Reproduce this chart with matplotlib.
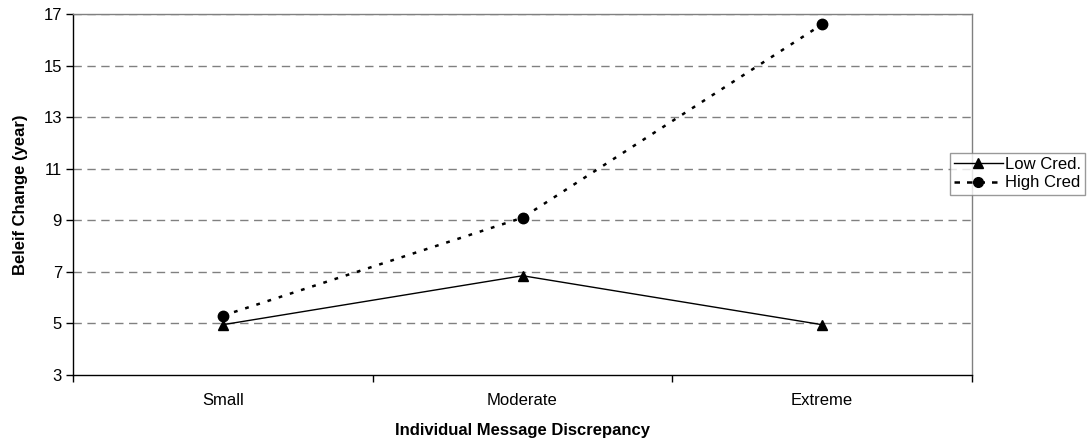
import matplotlib
matplotlib.use("Agg")
import matplotlib.pyplot as plt
from matplotlib.lines import Line2D

plt.rcParams['font.family'] = ['Liberation Sans', 'DejaVu Sans']

categories = ["Small", "Moderate", "Extreme"]
low_cred = [4.95, 6.85, 4.95]
high_cred = [5.3, 9.1, 16.6]
y_ticks = [3, 5, 7, 9, 11, 13, 15, 17]

fig = plt.figure(figsize=(10.89, 4.44), dpi=100)
ax = fig.add_axes([73 / 1089, 69 / 444, 899 / 1089, 361 / 444])

xpos = [i + 0.5 for i in range(len(categories))]

for y in y_ticks[1:]:
    ax.axhline(y, color='#808080', lw=1.0, ls=(0, (6, 4)), zorder=1)

dotted = (0, (1.5, 3.2))
ax.plot(xpos, low_cred, color='black', lw=1.0, marker='^', ms=7.5,
        label='Low Cred.', zorder=3)
ax.plot(xpos, high_cred, color='black', lw=1.8, ls=dotted,
        marker='o', ms=7.5, label='High Cred', zorder=3)

ax.set_xlim(0, 3)
ax.set_ylim(3, 17)
ax.set_yticks(y_ticks)
ax.set_xticks(xpos)
ax.set_xticklabels(categories)
ax.set_xticks([0, 1, 2, 3], minor=True)
ax.tick_params(axis='x', which='major', length=0, pad=13, labelsize=12)
ax.tick_params(axis='x', which='minor', length=5, width=1, direction='out', color='black')
ax.tick_params(axis='y', length=5, width=1, direction='out', labelsize=12, pad=3)

for side in ('top', 'right'):
    ax.spines[side].set_color('#808080')
    ax.spines[side].set_linewidth(1.0)
for side in ('left', 'bottom'):
    ax.spines[side].set_color('black')
    ax.spines[side].set_linewidth(1.0)

ax.set_xlabel('Individual Message Discrepancy', fontsize=12, fontweight='bold', labelpad=11)
ax.set_ylabel('Beleif Change (year)', fontsize=12, fontweight='bold', labelpad=11)

handles = [
    Line2D([], [], color='black', lw=1.0, marker='^', ms=7),
    Line2D([], [], color='black', lw=1.8, ls=(0, (2.2, 2.8)), marker='o', ms=7),
]
leg = fig.legend(handles, ['Low Cred.', 'High Cred'], loc='upper left',
                 bbox_to_anchor=(950 / 1089, 1 - 153 / 444), fontsize=12,
                 frameon=True, fancybox=False, handlelength=2.9,
                 handletextpad=0.15, borderpad=0.25, labelspacing=0.2,
                 borderaxespad=0)
leg.get_frame().set_edgecolor('#808080')
leg.get_frame().set_linewidth(1.0)
leg.set_zorder(10)

fig.savefig('out.png', dpi=100)
